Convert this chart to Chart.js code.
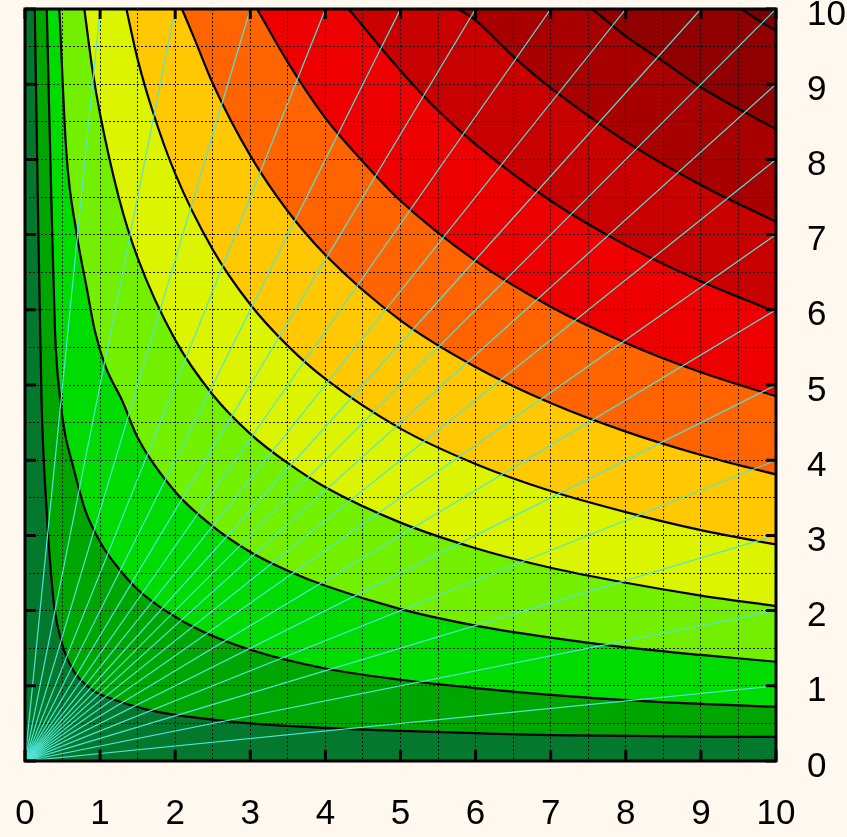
<!DOCTYPE html>
<html>
<head>
<meta charset="utf-8">
<title>Contour chart</title>
<script src="https://cdn.jsdelivr.net/npm/chart.js@4.4.1/dist/chart.umd.min.js"></script>
<style>
  html, body { margin: 0; padding: 0; background: #fff8ee; }
  canvas { display: block; }
</style>
</head>
<body>
<canvas id="myChart" width="847" height="837"></canvas>
<script>
/* Contour map with rays from the origin */

// tick labels on both axes
const tickValues = [0, 1, 2, 3, 4, 5, 6, 7, 8, 9, 10];

// contour lines as [x, y] pairs (lowest level first)
const contour1 = [[0.13, 10], [0.17, 7.5], [0.22, 4.8], [0.29, 3.3], [0.33, 2.7], [0.39, 2.05], [0.49, 1.57], [0.64, 1.21], [0.89, 0.95], [1.2, 0.81], [1.64, 0.68], [2.17, 0.59], [3, 0.5], [4, 0.44], [5, 0.4], [6, 0.37], [7, 0.345], [8, 0.335], [9, 0.325], [10, 0.32]];
const contour2 = [[0.29, 10], [0.35, 7.5], [0.4, 5.7], [0.47, 4.8], [0.53, 4.37], [0.64, 3.92], [0.8, 3.34], [1.02, 2.88], [1.2, 2.62], [1.5, 2.28], [1.9, 1.98], [2.33, 1.74], [3, 1.48], [4, 1.23], [5, 1.08], [6, 0.97], [7, 0.88], [8, 0.81], [9, 0.76], [10, 0.72]];
const contour3 = [[0.457, 10], [0.55, 8.1], [0.69, 7.0], [0.82, 6.3], [0.93, 5.72], [1.07, 5.25], [1.29, 4.8], [1.5, 4.3], [2, 3.58], [2.5, 3.12], [3, 2.78], [3.5, 2.53], [4, 2.33], [5, 2.02], [6, 1.8], [7, 1.64], [8, 1.51], [9, 1.41], [10, 1.32]];
const contour4 = [[0.79, 10], [0.9, 9.18], [1, 8.6], [1.25, 7.49], [1.5, 6.69], [2, 5.6], [2.5, 4.87], [3, 4.35], [3.5, 3.96], [4, 3.64], [5, 3.17], [6, 2.83], [7, 2.57], [8, 2.37], [9, 2.2], [10, 2.06]];
const contour5 = [[1.35, 10], [1.5, 9.33], [1.7, 8.64], [2, 7.81], [2.5, 6.8], [3, 6.07], [3.5, 5.52], [4, 5.08], [5, 4.42], [6, 3.95], [7, 3.59], [8, 3.31], [9, 3.07], [10, 2.88]];
const contour6 = [[2.09, 10], [2.25, 9.62], [2.5, 9.01], [3, 8.05], [3.5, 7.31], [4, 6.73], [5, 5.86], [6, 5.24], [7, 4.76], [8, 4.38], [9, 4.07], [10, 3.81]];
const contour7 = [[3.09, 10], [3.5, 9.29], [4, 8.55], [4.5, 7.97], [5, 7.45], [6, 6.65], [7, 6.04], [8, 5.56], [9, 5.17], [10, 4.85]];
const contour8 = [[4.31, 10], [5, 9.18], [5.5, 8.65], [6, 8.2], [7, 7.45], [8, 6.86], [9, 6.38], [10, 5.97]];
const contour9 = [[5.77, 10], [6, 9.85], [6.5, 9.37], [7, 8.95], [8, 8.24], [9, 7.66], [10, 7.17]];
const contour10 = [[7.55, 10], [8, 9.64], [8.5, 9.3], [9, 8.96], [10, 8.4]];
const contour11 = [[9.54, 10], [9.75, 9.86], [10, 9.71]];

// band colours: below the first contour, then above each contour
const bandColors = ['#04782c', '#00a600', '#00dc00', '#72f000', '#dcf400', '#ffc800', '#ff6400', '#ee0000', '#c80000', '#a80000', '#900000', '#780000'];

// rays from the origin: end points on the top edge (x) and on the right edge (y)
const rayTopX = [1, 2, 3, 4, 5, 6, 7, 8, 9, 10];
const rayRightY = [1, 2, 3, 4, 5, 6, 7, 8, 9];

function init() {
  const contours = [contour1, contour2, contour3, contour4, contour5, contour6,
    contour7, contour8, contour9, contour10, contour11];

  const toPoints = (arr) => arr.map(p => ({x: p[0], y: p[1]}));

  const datasets = [];

  // rays go first so they are drawn on top of the contour lines
  rayTopX.forEach(k => datasets.push({
    data: [{x: 0, y: 0}, {x: k, y: 10}],
    showLine: true, fill: false, pointRadius: 0,
    borderColor: 'rgb(80,228,215)', borderWidth: 1.2,
  }));
  rayRightY.forEach(k => datasets.push({
    data: [{x: 0, y: 0}, {x: 10, y: k}],
    showLine: true, fill: false, pointRadius: 0,
    borderColor: 'rgb(80,228,215)', borderWidth: 1.2,
  }));

  // fills are painted from the last dataset to the first,
  // so the highest contour comes first in the list
  for (let i = contours.length - 1; i >= 0; i--) {
    datasets.push({
      data: toPoints(contours[i]),
      showLine: true, pointRadius: 0,
      cubicInterpolationMode: 'monotone',
      borderColor: '#000', borderWidth: 2.2,
      backgroundColor: bandColors[i + 1],
      fill: 'end',
    });
  }

  // base band (lowest level)
  datasets.push({
    data: [{x: tickValues[0], y: 0}, {x: tickValues[tickValues.length - 1], y: 0}],
    showLine: true, pointRadius: 0, borderWidth: 0,
    backgroundColor: bandColors[0],
    fill: 'end',
  });

  const labelFont = {family: "'Liberation Sans', Arial, sans-serif", size: 35};
  const intLabel = (v) => Number.isInteger(v) ? String(v) : '';

  // frame and inner tick marks
  const frame = {
    id: 'frame',
    afterDraw(chart) {
      const {ctx, chartArea: a, scales: {x, y}} = chart;
      ctx.save();
      ctx.strokeStyle = '#000';
      ctx.lineWidth = 3;
      ctx.strokeRect(a.left, a.top, a.right - a.left, a.bottom - a.top);
      ctx.beginPath();
      tickValues.forEach(v => {
        const px = x.getPixelForValue(v);
        const py = y.getPixelForValue(v);
        ctx.moveTo(px, a.bottom); ctx.lineTo(px, a.bottom - 11);
        ctx.moveTo(px, a.top); ctx.lineTo(px, a.top + 10);
        ctx.moveTo(a.left, py); ctx.lineTo(a.left + 11, py);
        ctx.moveTo(a.right, py); ctx.lineTo(a.right - 10, py);
      });
      ctx.stroke();
      ctx.restore();
    }
  };

  new Chart(document.getElementById('myChart'), {
    type: 'scatter',
    data: {datasets: datasets},
    plugins: [frame],
    options: {
      responsive: false,
      animation: false,
      events: [],
      layout: {padding: {left: 25, top: 9, right: 0, bottom: 0}},
      plugins: {
        legend: {display: false},
        tooltip: {enabled: false},
        filler: {drawTime: 'beforeDraw'},
      },
      scales: {
        x: {
          type: 'linear', position: 'bottom', min: 0, max: 10,
          ticks: {stepSize: 0.5, autoSkip: false, maxRotation: 0, callback: intLabel,
            color: '#000', font: labelFont, padding: 32},
          grid: {color: 'rgba(0,0,0,0.9)', lineWidth: 1, drawTicks: false},
          border: {display: false, dash: [2, 2]},
          afterFit(scale) { scale.height = 76; scale.paddingLeft = 0; scale.paddingRight = 0; },
        },
        y: {
          type: 'linear', position: 'right', min: 0, max: 10,
          ticks: {stepSize: 0.5, autoSkip: false, callback: intLabel,
            color: '#000', font: labelFont, padding: 31, labelOffset: 6},
          grid: {color: 'rgba(0,0,0,0.9)', lineWidth: 1, drawTicks: false},
          border: {display: false, dash: [2, 2]},
          afterFit(scale) { scale.width = 71; scale.paddingTop = 0; scale.paddingBottom = 0; },
        },
      },
    },
  });
}

document.addEventListener("DOMContentLoaded", init, false);
</script>
</body>
</html>
